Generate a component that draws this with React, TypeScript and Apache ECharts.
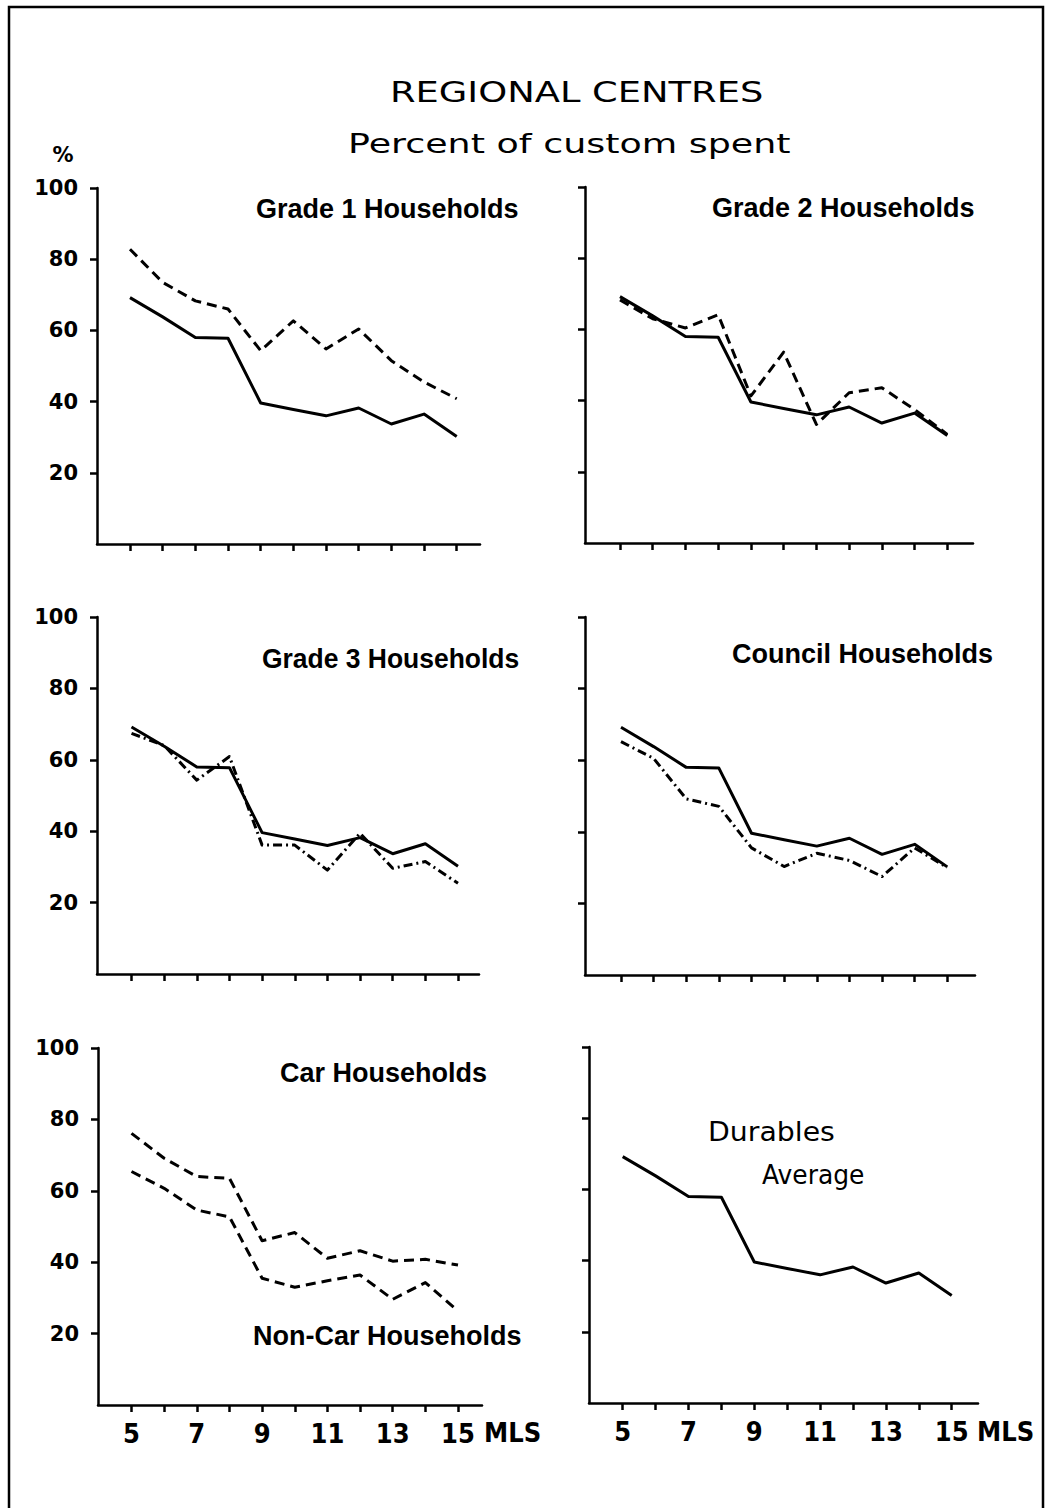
import React, { useEffect, useRef } from "react";
import * as echarts from "echarts";

// ---- data ----
const MLS = [5, 6, 7, 8, 9, 10, 11, 12, 13, 14, 15];
const X_TICKS = [5, 6, 7, 8, 9, 10, 11, 12, 13, 14, 15];
const X_LABELS = [5, 7, 9, 11, 13, 15];
const Y_TICKS = [20, 40, 60, 80, 100];

const DURABLES_AVERAGE = [69.2, 63.8, 58.0, 57.8, 39.6, 37.8, 36.0, 38.2, 33.7, 36.5, 30.2];
const GRADE1 = [82.8, 73.5, 68.3, 66.0, 54.3, 62.7, 54.8, 60.4, 51.5, 45.5, 40.8];
const GRADE2 = [68.3, 63.0, 60.4, 64.1, 41.3, 53.6, 33.3, 42.2, 43.6, 37.5, 30.5];
const GRADE3 = [67.4, 64.0, 54.3, 60.9, 36.1, 36.1, 29.1, 39.4, 29.6, 31.5, 25.4];
const COUNCIL = [65.2, 60.5, 49.2, 47.1, 35.5, 30.3, 34.0, 32.0, 27.5, 35.5, 30.0];
const CAR = [76.1, 69.1, 64.0, 63.5, 46.0, 48.3, 41.1, 43.2, 40.3, 40.8, 39.2];
const NON_CAR = [65.4, 60.7, 54.6, 52.7, 35.5, 33.0, 34.8, 36.4, 29.6, 34.3, 26.3];

// ---- layout (pixels) ----
const PANELS = [
  { axisLeft: 97, x5: 130, x15: 456.7, axisRight: 480, top: 188, bottom: 544, yLabels: true, xLabels: false },
  { axisLeft: 585, x5: 620, x15: 947.3, axisRight: 973, top: 187, bottom: 543, yLabels: false, xLabels: false },
  { axisLeft: 97, x5: 131.5, x15: 458, axisRight: 479, top: 617, bottom: 974, yLabels: true, xLabels: false },
  { axisLeft: 585, x5: 621, x15: 947.3, axisRight: 975, top: 617, bottom: 975, yLabels: false, xLabels: false },
  { axisLeft: 98, x5: 131.5, x15: 458, axisRight: 482, top: 1048, bottom: 1405, yLabels: true, xLabels: true },
  { axisLeft: 589, x5: 622.7, x15: 951.7, axisRight: 978, top: 1047, bottom: 1403, yLabels: false, xLabels: true },
];

const DASH = [10, 6];
const DASHDOT = [9, 4, 2, 4];

const SERIES_DEFS = [
  { panel: 0, values: DURABLES_AVERAGE, type: "solid" },
  { panel: 0, values: GRADE1, type: DASH },
  { panel: 1, values: DURABLES_AVERAGE, type: "solid" },
  { panel: 1, values: GRADE2, type: DASH },
  { panel: 2, values: DURABLES_AVERAGE, type: "solid" },
  { panel: 2, values: GRADE3, type: DASHDOT },
  { panel: 3, values: DURABLES_AVERAGE, type: "solid" },
  { panel: 3, values: COUNCIL, type: DASHDOT },
  { panel: 4, values: CAR, type: DASH },
  { panel: 4, values: NON_CAR, type: DASH },
  { panel: 5, values: DURABLES_AVERAGE, type: "solid" },
];

const BOLD_SANS = "'Liberation Sans', Arial, sans-serif";
const ROUND_SANS = "'DejaVu Sans', sans-serif";
const NARROW = "'Liberation Sans Narrow', 'DejaVu Sans Condensed', 'Liberation Sans', sans-serif";

type TextDef = { text: string; x: number; y: number; size: number; font: string; weight: string; scaleX?: number; align?: string };

const TEXTS: TextDef[] = [
  { text: "REGIONAL CENTRES", x: 390, y: 92, size: 29, font: ROUND_SANS, weight: "normal", scaleX: 1.27 },
  { text: "Percent of custom spent", x: 348, y: 144, size: 26, font: ROUND_SANS, weight: "normal", scaleX: 1.4 },
  { text: "%", x: 63, y: 155, size: 21, font: ROUND_SANS, weight: "bold", align: "center" },
  { text: "Grade 1 Households", x: 256, y: 209, size: 27, font: BOLD_SANS, weight: "bold" },
  { text: "Grade 2 Households", x: 712, y: 208, size: 27, font: BOLD_SANS, weight: "bold" },
  { text: "Grade 3 Households", x: 262, y: 659, size: 27, font: BOLD_SANS, weight: "bold", scaleX: 0.98 },
  { text: "Council Households", x: 732, y: 654, size: 27, font: BOLD_SANS, weight: "bold" },
  { text: "Car Households", x: 280, y: 1073, size: 27, font: BOLD_SANS, weight: "bold" },
  { text: "Non-Car Households", x: 253, y: 1336, size: 27, font: BOLD_SANS, weight: "bold" },
  { text: "Durables", x: 708, y: 1132, size: 26, font: ROUND_SANS, weight: "normal", scaleX: 1.09 },
  { text: "Average", x: 762, y: 1175, size: 26, font: ROUND_SANS, weight: "normal", scaleX: 0.96 },
  { text: "MLS", x: 484, y: 1432, size: 27, font: NARROW, weight: "bold" },
  { text: "MLS", x: 977, y: 1431, size: 27, font: NARROW, weight: "bold" },
];

function buildOption() {
  const grids = PANELS.map((p) => ({
    left: p.axisLeft,
    top: p.top,
    width: p.axisRight - p.axisLeft,
    height: p.bottom - p.top,
    containLabel: false,
    outerBoundsMode: "none",
  }));

  const xAxes = PANELS.map((p, i) => {
    const unit = (p.x15 - p.x5) / 10;
    return {
      gridIndex: i,
      type: "value",
      min: 5 - (p.x5 - p.axisLeft) / unit,
      max: 15 + (p.axisRight - p.x15) / unit,
      axisLine: { show: true, onZero: false, lineStyle: { color: "#000", width: 2.5 } },
      axisTick: {
        show: true,
        inside: false,
        length: 7,
        customValues: X_TICKS,
        lineStyle: { color: "#000", width: 2.5 },
      },
      axisLabel: {
        show: p.xLabels,
        customValues: X_LABELS,
        margin: 15,
        color: "#000",
        fontSize: 27,
        fontWeight: "bold",
        fontFamily: NARROW,
      },
      splitLine: { show: false },
    };
  });

  const yAxes = PANELS.map((p, i) => ({
    gridIndex: i,
    type: "value",
    min: 0,
    max: 100,
    axisLine: { show: true, onZero: false, lineStyle: { color: "#000", width: 2.5 } },
    axisTick: {
      show: true,
      inside: false,
      length: 7,
      customValues: Y_TICKS,
      lineStyle: { color: "#000", width: 2.5 },
    },
    axisLabel: {
      show: p.yLabels,
      customValues: Y_TICKS,
      margin: 19,
      color: "#000",
      fontSize: 21,
      fontWeight: "bold",
      fontFamily: ROUND_SANS,
    },
    splitLine: { show: false },
  }));

  const series = SERIES_DEFS.map((s) => ({
    type: "line",
    xAxisIndex: s.panel,
    yAxisIndex: s.panel,
    data: MLS.map((m, i) => [m, s.values[i]]),
    symbol: "none",
    silent: true,
    lineStyle: { color: "#000", width: 3, type: s.type, join: "round" },
  }));

  const graphic: any[] = [
    {
      type: "rect",
      shape: { x: 9, y: 7, width: 1034, height: 1700 },
      style: { fill: "none", stroke: "#000", lineWidth: 2.5 },
      silent: true,
    },
    ...TEXTS.map((t) => ({
      type: "text",
      x: t.x,
      y: t.y,
      scaleX: t.scaleX ?? 1,
      silent: true,
      style: {
        text: t.text,
        fill: "#000",
        font: `${t.weight} ${t.size}px ${t.font}`,
        align: t.align ?? "left",
        verticalAlign: "middle",
      },
    })),
  ];

  return {
    animation: false,
    backgroundColor: "#fff",
    grid: grids,
    xAxis: xAxes,
    yAxis: yAxes,
    series,
    graphic,
  };
}

export default function App() {
  const ref = useRef<HTMLDivElement>(null);
  useEffect(() => {
    if (!ref.current) return;
    const chart = echarts.init(ref.current, undefined, { renderer: "svg" });
    chart.setOption(buildOption() as any);
    return () => chart.dispose();
  }, []);
  return (
    <div
      ref={ref}
      style={{ position: "absolute", left: 0, top: 0, width: 1046, height: 1508, background: "#fff" }}
    />
  );
}
